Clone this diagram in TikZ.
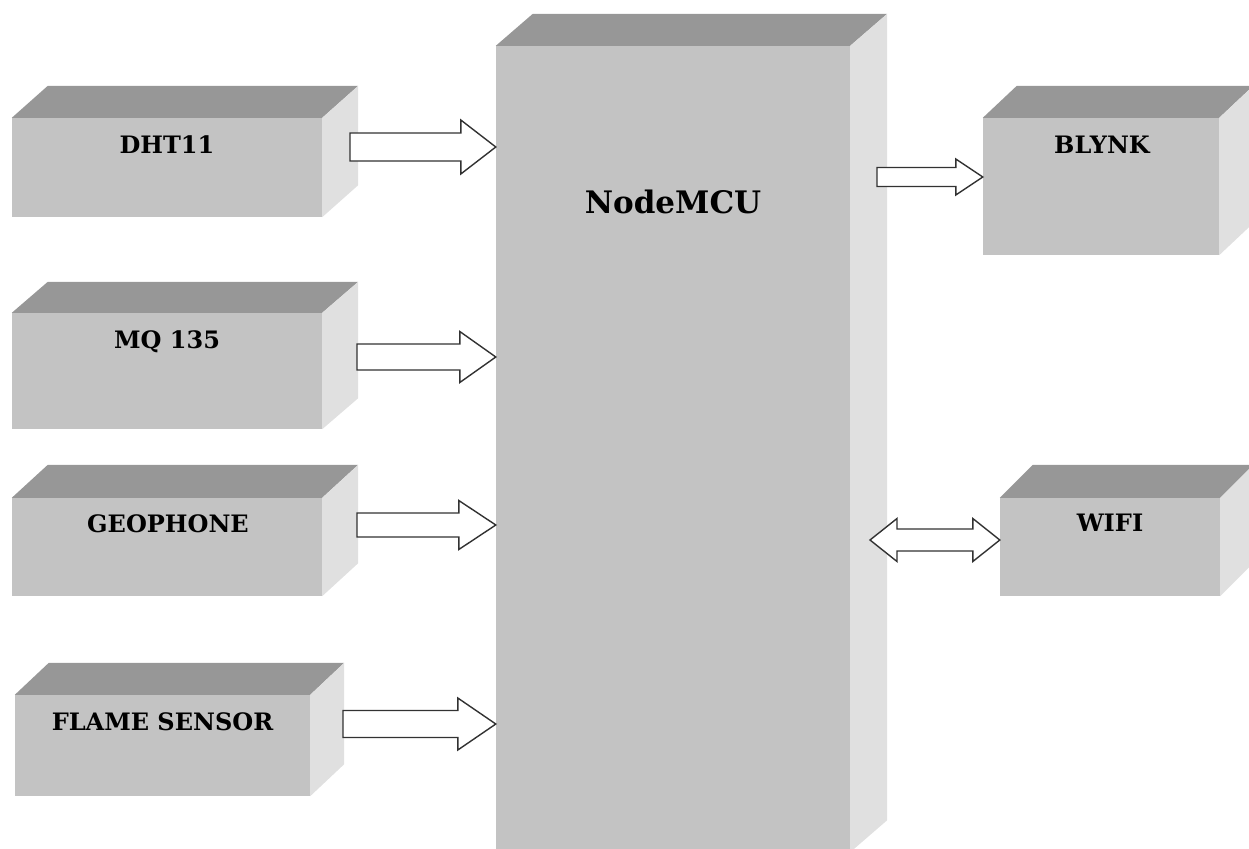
\documentclass[tikz,border=0pt]{standalone}
\usepackage{fontspec}
\setmainfont{DejaVu Serif}
\usetikzlibrary{calc}
\definecolor{frontc}{RGB}{195,195,195}
\definecolor{topc}{RGB}{151,151,151}
\definecolor{sidec}{RGB}{224,224,224}
\definecolor{edgec}{RGB}{50,50,50}
\tikzset{
 front/.style={rectangle, fill=frontc, draw=none, inner sep=0pt},
 lbl/.style={font=\bfseries\fontsize{24}{24}\selectfont, inner sep=0pt},
 bigl/.style={font=\bfseries\fontsize{31}{31}\selectfont, inner sep=0pt},
 topface/.style={fill=topc},
 sideface/.style={fill=sidec},
 arr/.style={draw=edgec, fill=white, line width=1.4pt, line join=miter},
}
\newcommand\cube[3]{%
 \fill[topface] (#1.north west) -- ++(#2,#3) -- ($(#1.north east)+(#2,#3)$) -- (#1.north east) -- cycle;
 \fill[sideface] (#1.north east) -- ++(#2,#3) -- ($(#1.south east)+(#2,#3)$) -- (#1.south east) -- cycle;
}
\newcommand\barrow[5]{%
 \draw[arr] let \p1=(#1), \p2=(#2) in
 (\x1,{\y1+#3}) -- ({\x2-#5},{\y1+#3}) -- ({\x2-#5},{\y1+#4}) -- (\x2,\y1)
 -- ({\x2-#5},{\y1-#4}) -- ({\x2-#5},{\y1-#3}) -- (\x1,{\y1-#3}) -- cycle;
}
\newcommand\darrow[5]{%
 \draw[arr] let \p1=(#1), \p2=(#2) in
 (\x1,\y1) -- ({\x1+#5},{\y1+#4}) -- ({\x1+#5},{\y1+#3}) -- ({\x2-#5},{\y1+#3})
 -- ({\x2-#5},{\y1+#4}) -- (\x2,\y1) -- ({\x2-#5},{\y1-#4}) -- ({\x2-#5},{\y1-#3})
 -- ({\x1+#5},{\y1-#3}) -- ({\x1+#5},{\y1-#4}) -- cycle;
}
\begin{document}
\begin{tikzpicture}[x=1pt,y=-1pt]
\useasboundingbox (0,0) rectangle (1249,848);
\clip (0,0) rectangle (1249,848);
% NodeMCU
\node[front, minimum width=354pt, minimum height=806pt] (mcu) at (673,449) {};
\cube{mcu}{37}{-32}
\node[bigl] (mcuL) at ($(mcu.north)+(0,156)$) {NodeMCU};
% sensors
\node[front, minimum width=310pt, minimum height=99pt] (dht) at (167,167.5) {};
\cube{dht}{36}{-32}
\node[lbl] (dhtL) at ($(dht.north)+(0,27)$) {DHT11};
\node[front, minimum width=310pt, minimum height=116pt] (mq) at (167,371) {};
\cube{mq}{36}{-31}
\node[lbl] (mqL) at ($(mq.north)+(0,29)$) {MQ 135};
\node[front, minimum width=310pt, minimum height=98pt] (geo) at (167,547) {};
\cube{geo}{36}{-33}
\node[lbl] (geoL) at ($(geo.north)+(1,26)$) {GEOPHONE};
\node[front, minimum width=295pt, minimum height=101pt] (flame) at (162.5,745.5) {};
\cube{flame}{34}{-32}
\node[lbl] (flameL) at ($(flame.north)+(0,27)$) {FLAME SENSOR};
% outputs
\node[front, minimum width=236pt, minimum height=137pt] (blynk) at (1101,186.5) {};
\cube{blynk}{34}{-32}
\node[lbl] (blynkL) at ($(blynk.north)+(1,27)$) {BLYNK};
\node[front, minimum width=220pt, minimum height=98pt] (wifi) at (1110,547) {};
\cube{wifi}{33}{-33}
\node[lbl] (wifiL) at ($(wifi.north)+(0,25)$) {WIFI};
% arrows
\coordinate (dhtO) at (350,147);
\coordinate (mqO) at (357,357);
\coordinate (geoO) at (357,525);
\coordinate (flameO) at (343,724);
\coordinate (mcuB) at (877,177);
\coordinate (mcuW) at (870,540);
\barrow{dhtO}{mcu.west |- dhtO}{14pt}{27pt}{35pt}
\barrow{mqO}{mcu.west |- mqO}{13pt}{25.5pt}{36pt}
\barrow{geoO}{mcu.west |- geoO}{12pt}{24.5pt}{37pt}
\barrow{flameO}{mcu.west |- flameO}{13.5pt}{26pt}{38pt}
\barrow{mcuB}{blynk.west |- mcuB}{9.5pt}{18pt}{27pt}
\darrow{mcuW}{wifi.west |- mcuW}{11pt}{21.5pt}{27pt}
\end{tikzpicture}
\end{document}
